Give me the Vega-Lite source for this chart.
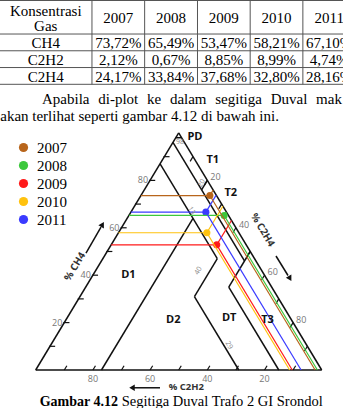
{
"$schema":"https://vega.github.io/schema/vega-lite/v6.json",
"width":343,"height":408,"padding":0,"autosize":{"type":"none"},"background":"white",
"config":{"view":{"stroke":null},"axis":{"disable":true}},
"datasets":{
 "table":[
  {"gas":"CH4","year":"2007","value":"73,72%"},{"gas":"CH4","year":"2008","value":"65,49%"},{"gas":"CH4","year":"2009","value":"53,47%"},{"gas":"CH4","year":"2010","value":"58,21%"},{"gas":"CH4","year":"2011","value":"67,10%"},
  {"gas":"C2H2","year":"2007","value":"2,12%"},{"gas":"C2H2","year":"2008","value":"0,67%"},{"gas":"C2H2","year":"2009","value":"8,85%"},{"gas":"C2H2","year":"2010","value":"8,99%"},{"gas":"C2H2","year":"2011","value":"4,74%"},
  {"gas":"C2H4","year":"2007","value":"24,17%"},{"gas":"C2H4","year":"2008","value":"33,84%"},{"gas":"C2H4","year":"2009","value":"37,68%"},{"gas":"C2H4","year":"2010","value":"32,80%"},{"gas":"C2H4","year":"2011","value":"28,16%"}
 ],
 "years":[{"year":"2007"},{"year":"2008"},{"year":"2009"},{"year":"2010"},{"year":"2011"}],
 "gases":[{"gas":"CH4"},{"gas":"C2H2"},{"gas":"C2H4"}],
 "edges":[{"edge":"top"},{"edge":"b1"},{"edge":"b2"},{"edge":"b3"},{"edge":"b4"}],
 "points":[
  {"year":"2007","ch4":73.6,"c2h4":24.1},
  {"year":"2008","ch4":65.2,"c2h4":33.3},
  {"year":"2009","ch4":52.8,"c2h4":36.9},
  {"year":"2010","ch4":57.9,"c2h4":30.9},
  {"year":"2011","ch4":66.6,"c2h4":26.2}
 ],
 "bounds":[
  {"a_ch4":100,"a_c2h4":0,"b_ch4":0,"b_c2h4":0},
  {"a_ch4":100,"a_c2h4":0,"b_ch4":0,"b_c2h4":100},
  {"a_ch4":0,"a_c2h4":0,"b_ch4":0,"b_c2h4":100},
  {"a_ch4":98,"a_c2h4":0,"b_ch4":98,"b_c2h4":2},
  {"a_ch4":96,"a_c2h4":0,"b_ch4":46,"b_c2h4":50},
  {"a_ch4":80,"a_c2h4":20,"b_ch4":76,"b_c2h4":20},
  {"a_ch4":50,"a_c2h4":50,"b_ch4":35,"b_c2h4":50},
  {"a_ch4":35,"a_c2h4":50,"b_ch4":0,"b_c2h4":85},
  {"a_ch4":87,"a_c2h4":0,"b_ch4":47,"b_c2h4":40},
  {"a_ch4":64,"a_c2h4":23,"b_ch4":0,"b_c2h4":23},
  {"a_ch4":47,"a_c2h4":40,"b_ch4":31,"b_c2h4":40},
  {"a_ch4":31,"a_c2h4":40,"b_ch4":0,"b_c2h4":71}
 ],
 "ticks":[
  {"axis":"CH4","v":10},{"axis":"CH4","v":20},{"axis":"CH4","v":30},{"axis":"CH4","v":40},{"axis":"CH4","v":50},{"axis":"CH4","v":60},{"axis":"CH4","v":70},{"axis":"CH4","v":80},{"axis":"CH4","v":90},
  {"axis":"C2H4","v":10},{"axis":"C2H4","v":20},{"axis":"C2H4","v":30},{"axis":"C2H4","v":40},{"axis":"C2H4","v":50},{"axis":"C2H4","v":60},{"axis":"C2H4","v":70},{"axis":"C2H4","v":80},{"axis":"C2H4","v":90},
  {"axis":"C2H2","v":10},{"axis":"C2H2","v":20},{"axis":"C2H2","v":30},{"axis":"C2H2","v":40},{"axis":"C2H2","v":50},{"axis":"C2H2","v":60},{"axis":"C2H2","v":70},{"axis":"C2H2","v":80},{"axis":"C2H2","v":90}
 ]
},
"resolve":{"scale":{"x":"independent","y":"independent"}},
"layer":[
 {
  "data":{"values":[{}]},
  "layer":[
   {"data":{"name":"edges"},"mark":{"type":"rule","color":"#555","strokeWidth":1},
    "encoding":{"y":{"field":"edge","type":"ordinal","axis":null,"scale":{"type":"point","domain":["top","h1","hdr","h2","b1","CH4","b2","C2H2","b3","C2H4","b4"],"range":[0.5,84.3],"padding":0}}}},
   {"data":{"name":"years"},"mark":{"type":"rule","color":"#555","strokeWidth":1},
    "encoding":{
     "x":{"field":"year","type":"temporal","timeUnit":"utcyear","bandPosition":0,"axis":null,"scale":{"type":"utc","domain":[{"year":2005,"month":4,"date":4,"utc":true},{"year":2011,"month":10,"date":6,"utc":true}],"nice":false}},
     "y":{"datum":"top","type":"ordinal"},"y2":{"datum":"b4"}}},
   {"data":{"name":"table"},"mark":{"type":"text","font":"Liberation Serif","fontSize":15,"color":"#000","align":"center","baseline":"alphabetic","dy":5.8},
    "encoding":{"x":{"field":"year","type":"temporal","timeUnit":"utcyear","bandPosition":0.5},"y":{"field":"gas","type":"ordinal"},"text":{"field":"value","type":"nominal"}}},
   {"data":{"name":"years"},"mark":{"type":"text","font":"Liberation Serif","fontSize":15,"color":"#000","align":"center","baseline":"alphabetic","dy":6},
    "encoding":{"x":{"field":"year","type":"temporal","timeUnit":"utcyear","bandPosition":0.5},"y":{"datum":"hdr","type":"ordinal"},"text":{"field":"year","type":"temporal","timeUnit":"utcyear","format":"%Y"}}},
   {"data":{"name":"gases"},"mark":{"type":"text","font":"Liberation Serif","fontSize":15,"color":"#000","align":"center","baseline":"alphabetic","dy":5.8},
    "encoding":{"x":{"datum":{"year":2006,"month":2,"date":15,"utc":true},"type":"temporal"},"y":{"field":"gas","type":"ordinal"},"text":{"field":"gas","type":"nominal"}}},
   {"mark":{"type":"text","font":"Liberation Serif","fontSize":15,"color":"#000","align":"center","baseline":"alphabetic","dy":-1,"lineHeight":14.5},
    "encoding":{"x":{"datum":{"year":2006,"month":2,"date":15,"utc":true},"type":"temporal"},"y":{"datum":"hdr","type":"ordinal"},"text":{"value":["Konsentrasi","Gas"]}}}
  ]
 },
 {
  "data":{"values":[{}]},
  "layer":[
   {"data":{"name":"bounds"},
    "transform":[{"calculate":"datum.a_c2h4 + datum.a_ch4/2","as":"ax"},{"calculate":"datum.b_c2h4 + datum.b_ch4/2","as":"bx"}],
    "mark":{"type":"rule","color":"#111","strokeWidth":1.5},
    "encoding":{"x":{"field":"ax","type":"quantitative","axis":null,"scale":{"domain":[-12.48,107.45],"nice":false,"zero":false}},
     "y":{"field":"a_ch4","type":"quantitative","axis":null,"scale":{"domain":[-16.03,156.1],"nice":false,"zero":false}},
     "x2":{"field":"bx"},"y2":{"field":"b_ch4"}}},
   {"data":{"name":"ticks"},
    "transform":[
     {"calculate":"datum.axis=='CH4' ? datum.v/2 - 0.3 : datum.axis=='C2H4' ? 50 + datum.v/2 : 100 - datum.v","as":"x0"},
     {"calculate":"datum.axis=='CH4' ? datum.v : datum.axis=='C2H4' ? 100 - datum.v : 0","as":"y0"},
     {"calculate":"datum.axis=='CH4' ? datum.v/2 + 1.8 : datum.axis=='C2H4' ? 50 + datum.v/2 - 1 : 100 - datum.v + 0.9","as":"x1"},
     {"calculate":"datum.axis=='CH4' ? datum.v : datum.axis=='C2H4' ? 98 - datum.v : 1.8","as":"y1"}],
    "mark":{"type":"rule","color":"#111","strokeWidth":1.2},
    "encoding":{"x":{"field":"x0","type":"quantitative"},"y":{"field":"y0","type":"quantitative"},"x2":{"field":"x1"},"y2":{"field":"y1"}}},
   {"data":{"name":"ticks"},
    "transform":[{"filter":"datum.axis=='CH4' && datum.v % 20 == 0"},{"calculate":"datum.v/2","as":"x0"}],
    "mark":{"type":"text","font":"Open Sans","fontSize":9,"color":"#777","align":"right","baseline":"middle","dx":-2},
    "encoding":{"x":{"field":"x0","type":"quantitative"},"y":{"field":"v","type":"quantitative"},"text":{"field":"v","type":"quantitative"}}},
   {"data":{"name":"ticks"},
    "transform":[{"filter":"datum.axis=='C2H4' && datum.v % 20 == 0"},{"calculate":"50 + datum.v/2","as":"x0"},{"calculate":"100 - datum.v","as":"y0"}],
    "mark":{"type":"text","font":"Open Sans","fontSize":9,"color":"#777","align":"left","baseline":"middle","dx":3,"dy":-3},
    "encoding":{"x":{"field":"x0","type":"quantitative"},"y":{"field":"y0","type":"quantitative"},"text":{"field":"v","type":"quantitative"}}},
   {"data":{"name":"ticks"},
    "transform":[{"filter":"datum.axis=='C2H2' && datum.v % 20 == 0"},{"calculate":"100 - datum.v","as":"x0"}],
    "mark":{"type":"text","font":"Open Sans","fontSize":9,"color":"#777","align":"center","baseline":"middle","dy":9},
    "encoding":{"x":{"field":"x0","type":"quantitative"},"y":{"datum":0},"text":{"field":"v","type":"quantitative"}}},
   {"data":{"name":"points"},
    "transform":[{"calculate":"datum.c2h4 + datum.ch4/2","as":"px"}],
    "mark":{"type":"circle","size":50,"opacity":1},
    "encoding":{"x":{"field":"px","type":"quantitative"},"y":{"field":"ch4","type":"quantitative"},
     "color":{"field":"year","type":"nominal","scale":{"domain":["2007","2008","2009","2010","2011"],"range":["#b8651b","#3cc83c","#ff1a1a","#ffc20e","#3a3aff"]},
      "legend":{"orient":"none","legendX":16,"legendY":140,"title":null,"padding":0,"symbolType":"circle","symbolSize":85,"symbolStrokeWidth":0,"labelFont":"Liberation Serif","labelFontSize":15,"labelColor":"#000","labelOffset":6,"rowPadding":2}}}},
   {"data":{"name":"points"},
    "transform":[{"calculate":"datum.ch4/2","as":"lx"},{"calculate":"datum.c2h4 + datum.ch4/2","as":"px"}],
    "mark":{"type":"rule","strokeWidth":1.2},
    "encoding":{"x":{"field":"lx","type":"quantitative"},"y":{"field":"ch4","type":"quantitative"},"x2":{"field":"px"},"y2":{"field":"ch4"},
     "color":{"field":"year","type":"nominal"}}},
   {"data":{"name":"points"},
    "transform":[{"calculate":"datum.c2h4 + datum.ch4/2","as":"px"},{"calculate":"50 + datum.c2h4/2","as":"rx"},{"calculate":"100 - datum.c2h4","as":"ry"}],
    "mark":{"type":"rule","strokeWidth":1.2},
    "encoding":{"x":{"field":"px","type":"quantitative"},"y":{"field":"ch4","type":"quantitative"},"x2":{"field":"rx"},"y2":{"field":"ry"},
     "color":{"field":"year","type":"nominal"}}},
   {"data":{"name":"points"},
    "transform":[{"calculate":"datum.c2h4 + datum.ch4/2","as":"px"},{"calculate":"datum.c2h4 + datum.ch4","as":"bx"}],
    "mark":{"type":"rule","strokeWidth":1.2},
    "encoding":{"x":{"field":"px","type":"quantitative"},"y":{"field":"ch4","type":"quantitative"},"x2":{"field":"bx"},"y2":{"datum":0},
     "color":{"field":"year","type":"nominal"}}},
   {"mark":{"type":"text","font":"Open Sans","fontSize":11,"fontWeight":"bold","color":"#111","align":"center","baseline":"middle"},"encoding":{"x":{"datum":55.7},"y":{"datum":98.4},"text":{"value":"PD"}}},
   {"mark":{"type":"text","font":"Open Sans","fontSize":11,"fontWeight":"bold","color":"#111","align":"center","baseline":"middle"},"encoding":{"x":{"datum":61.9},"y":{"datum":88.6},"text":{"value":"T1"}}},
   {"mark":{"type":"text","font":"Open Sans","fontSize":11,"fontWeight":"bold","color":"#111","align":"center","baseline":"middle"},"encoding":{"x":{"datum":68.2},"y":{"datum":74.55},"text":{"value":"T2"}}},
   {"mark":{"type":"text","font":"Open Sans","fontSize":11,"fontWeight":"bold","color":"#111","align":"center","baseline":"middle"},"encoding":{"x":{"datum":32.4},"y":{"datum":39.95},"text":{"value":"D1"}}},
   {"mark":{"type":"text","font":"Open Sans","fontSize":11,"fontWeight":"bold","color":"#111","align":"center","baseline":"middle"},"encoding":{"x":{"datum":48.1},"y":{"datum":21.1},"text":{"value":"D2"}}},
   {"mark":{"type":"text","font":"Open Sans","fontSize":11,"fontWeight":"bold","color":"#111","align":"center","baseline":"middle"},"encoding":{"x":{"datum":67.66},"y":{"datum":22.06},"text":{"value":"DT"}}},
   {"mark":{"type":"text","font":"Open Sans","fontSize":11,"fontWeight":"bold","color":"#111","align":"center","baseline":"middle"},"encoding":{"x":{"datum":81.05},"y":{"datum":21.1},"text":{"value":"T3"}}},
   {"mark":{"type":"text","font":"Open Sans","fontSize":7,"color":"#888","align":"center","baseline":"middle"},"encoding":{"x":{"datum":50.45},"y":{"datum":96.4},"text":{"value":"98"}}},
   {"mark":{"type":"text","font":"Open Sans","fontSize":7,"color":"#888","align":"center","baseline":"middle","angle":-59},"encoding":{"x":{"datum":57.97},"y":{"datum":78.77},"text":{"value":"20"}}},
   {"mark":{"type":"text","font":"Open Sans","fontSize":7,"color":"#888","align":"center","baseline":"middle","angle":59},"encoding":{"x":{"datum":54.5},"y":{"datum":67.2},"text":{"value":"13"}}},
   {"mark":{"type":"text","font":"Open Sans","fontSize":7,"color":"#888","align":"center","baseline":"middle","angle":-59},"encoding":{"x":{"datum":56.85},"y":{"datum":41.9},"text":{"value":"40"}}},
   {"mark":{"type":"text","font":"Open Sans","fontSize":7,"color":"#888","align":"center","baseline":"middle","angle":59},"encoding":{"x":{"datum":67.6},"y":{"datum":10.5},"text":{"value":"29"}}},
   {"mark":{"type":"text","font":"Open Sans","fontSize":10,"fontWeight":"bold","color":"#333","align":"center","baseline":"middle","angle":-59},"encoding":{"x":{"datum":13.74},"y":{"datum":43.58},"text":{"value":"% CH4"}}},
   {"mark":{"type":"text","font":"Open Sans","fontSize":10,"fontWeight":"bold","color":"#333","align":"center","baseline":"middle","angle":59},"encoding":{"x":{"datum":79.3},"y":{"datum":59.06},"text":{"value":"% C2H4"}}},
   {"mark":{"type":"text","font":"Open Sans","fontSize":9.5,"fontWeight":"bold","color":"#333","align":"center","baseline":"middle"},"encoding":{"x":{"datum":52.66},"y":{"datum":-7.3},"text":{"value":"% C2H2"}}},
   {"mark":{"type":"rule","color":"#111","strokeWidth":1.5},"encoding":{"x":{"datum":17.59},"y":{"datum":49.36},"x2":{"datum":22.83},"y2":{"datum":60.33}}},
   {"mark":{"type":"rule","color":"#111","strokeWidth":1.5},"encoding":{"x":{"datum":84.02},"y":{"datum":48.1},"x2":{"datum":88.22},"y2":{"datum":39.87}}},
   {"mark":{"type":"rule","color":"#111","strokeWidth":1.5},"encoding":{"x":{"datum":43.46},"y":{"datum":-7.5},"x2":{"datum":34.37},"y2":{"datum":-7.5}}},
   {"mark":{"type":"point","shape":"triangle-up","filled":true,"color":"#111","size":40,"angle":30,"opacity":1},"encoding":{"x":{"datum":23.36},"y":{"datum":61.39}}},
   {"mark":{"type":"point","shape":"triangle-up","filled":true,"color":"#111","size":40,"angle":150,"opacity":1},"encoding":{"x":{"datum":88.92},"y":{"datum":38.6}}},
   {"mark":{"type":"point","shape":"triangle-left","filled":true,"color":"#111","size":40,"opacity":1},"encoding":{"x":{"datum":33.67},"y":{"datum":-7.5}}},
   {"mark":{"type":"text","font":"Liberation Serif","fontSize":15,"color":"#000","align":"left","baseline":"alphabetic"},"encoding":{"x":{"datum":2.2},"y":{"datum":112.1},"text":{"value":"Apabila \u2004di-plot \u2004ke \u2004dalam \u2004segitiga \u2004Duval \u2004mak"}}},
   {"mark":{"type":"text","font":"Liberation Serif","fontSize":15,"color":"#000","align":"left","baseline":"alphabetic"},"encoding":{"x":{"datum":-12.4},"y":{"datum":105.05},"text":{"value":"akan terlihat seperti gambar 4.12 di bawah ini."}}},
   {"mark":{"type":"text","font":"Liberation Serif","fontSize":14,"fontWeight":"bold","color":"#000","align":"right","baseline":"alphabetic"},"encoding":{"x":{"datum":28.78},"y":{"datum":-15.0},"text":{"value":"Gambar 4.12"}}},
   {"mark":{"type":"text","font":"Liberation Serif","fontSize":14.5,"color":"#000","align":"left","baseline":"alphabetic"},"encoding":{"x":{"datum":30.07},"y":{"datum":-15.0},"text":{"value":"Segitiga Duval Trafo 2 GI Srondol"}}}
  ]
 }
]
}
